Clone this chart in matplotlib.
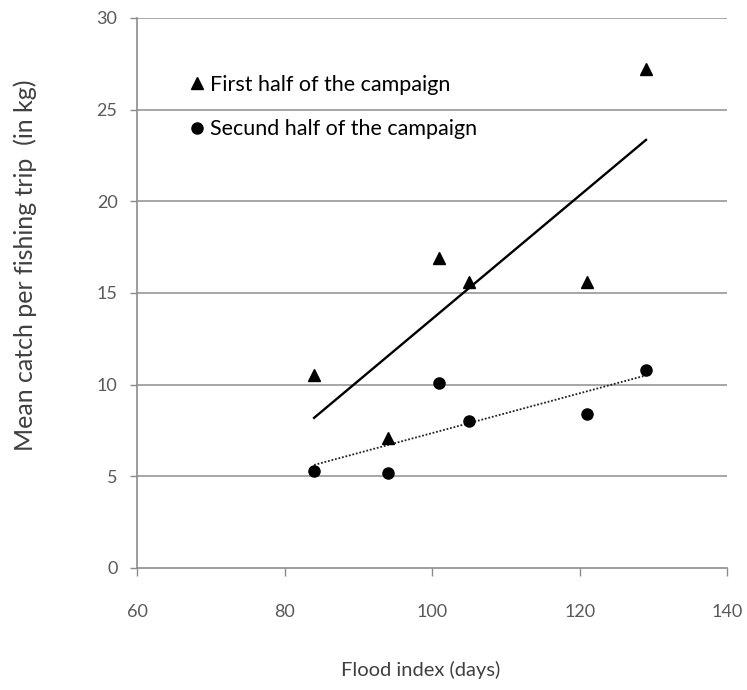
import numpy as np
import matplotlib
matplotlib.use("Agg")
import matplotlib.pyplot as plt

plt.rcParams['font.family'] = ['Lato', 'DejaVu Sans']

# flood index (days) and mean catch per trip (kg)
flood_index = [84, 94, 101, 105, 121, 129]
catch_first = [10.5, 7.1, 16.9, 15.6, 15.6, 27.2]
catch_second = [5.3, 5.2, 10.1, 8.0, 8.4, 10.8]

label_first = "First half of the campaign"
label_second = "Secund half of the campaign"

x_ticks = [60, 80, 100, 120, 140]
y_ticks = [0, 5, 10, 15, 20, 25, 30]

fig = plt.figure(figsize=(7.47, 6.9), dpi=100)
ax = fig.add_axes([0.1834, 0.177, 0.79, 0.797])

grid_col = '#a6a6a6'
for yt in y_ticks[1:]:
    ax.axhline(yt, color=grid_col, lw=1.4, zorder=0)

x = np.array(flood_index, dtype=float)

# linear trend lines
p1 = np.polyfit(x, catch_first, 1)
p2 = np.polyfit(x, catch_second, 1)
xl = np.array([x.min(), x.max()])
ax.plot(xl, np.polyval(p1, xl), color='black', lw=1.7, zorder=2)
ax.plot(xl, np.polyval(p2, xl), color='#222222', lw=1.3,
        linestyle=(0, (1, 1)), zorder=2)

ax.plot(x, catch_first, linestyle='none', marker='^', ms=9, color='black',
        label=label_first, zorder=3)
ax.plot(x, catch_second, linestyle='none', marker='o', ms=8, color='black',
        label=label_second, zorder=3)

ax.set_xlim(60, 140)
ax.set_ylim(0, 30)
ax.set_xticks(x_ticks)
ax.set_yticks(y_ticks)

for side in ['top', 'right']:
    ax.spines[side].set_visible(False)
for side in ['left', 'bottom']:
    ax.spines[side].set_color('#8c8c8c')
    ax.spines[side].set_linewidth(1.2)

ax.tick_params(axis='y', length=5, width=1, color='#8c8c8c', pad=9,
               labelsize=13, labelcolor='#595959')
ax.tick_params(axis='x', length=6, width=1, color='#8c8c8c', pad=20,
               labelsize=13, labelcolor='#595959')

ax.set_xlabel("Flood index (days)", fontsize=14.5, color='#404040')
ax.xaxis.set_label_coords(0.481, -0.17)
ax.set_ylabel("Mean catch per fishing trip  (in kg)", fontsize=18,
              color='#404040')
ax.yaxis.set_label_coords(-0.17, 0.551)

leg = ax.legend(loc='upper left', bbox_to_anchor=(0.084, 0.897), frameon=False,
                fontsize=15.5, handletextpad=0.1, labelspacing=1.15,
                handlelength=1.0, borderaxespad=0, borderpad=0)

fig.savefig("out.png", dpi=100)
